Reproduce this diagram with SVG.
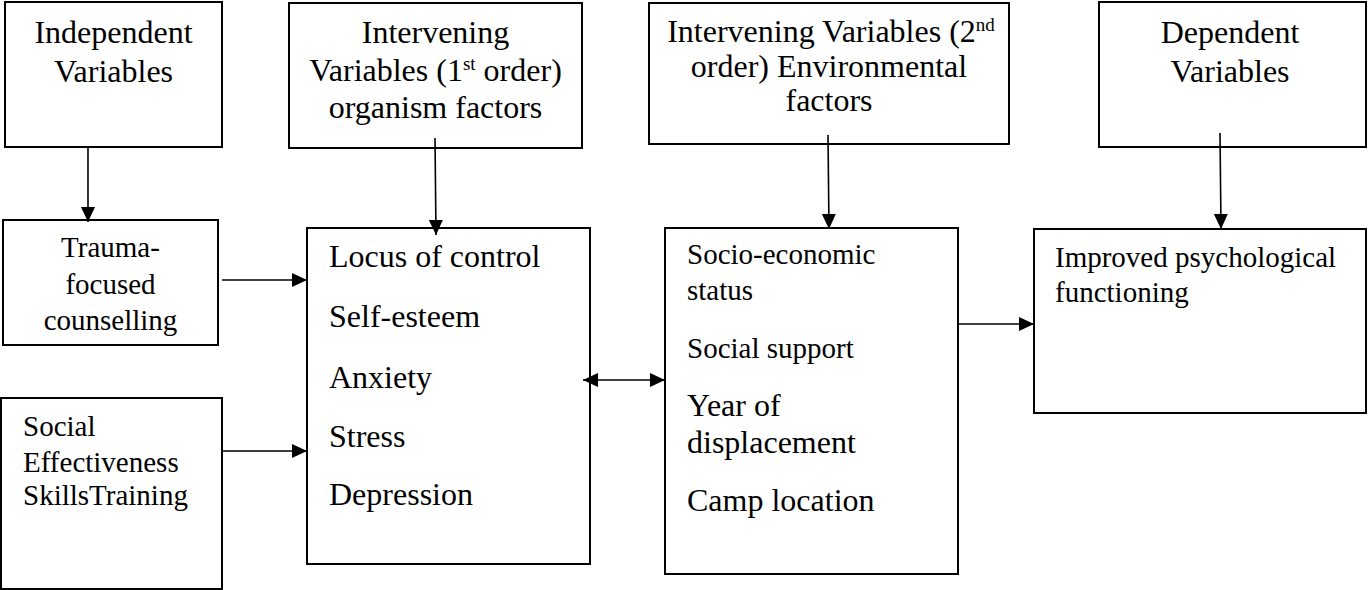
<svg xmlns="http://www.w3.org/2000/svg" width="1368" height="590" viewBox="0 0 1368 590">
<style>
  .box { fill: #ffffff; stroke: #000000; stroke-width: 2; }
  .t { font-family: "Liberation Serif", "Times New Roman", serif; fill: #000000; }
  .h { font-size: 32px; }
  .s { font-size: 29px; }
  .c { text-anchor: middle; }
  .sup { font-size: 19px; }
  .conn { stroke: #000000; stroke-width: 1.6; fill: none; marker-end: url(#ah); }
</style>
<defs>
  <marker id="ah" markerUnits="userSpaceOnUse" markerWidth="16" markerHeight="15" refX="15" refY="7" orient="auto-start-reverse">
    <path d="M0,0 L15,7 L0,14 z" fill="#000000"/>
  </marker>
</defs>
<rect width="1368" height="590" fill="#ffffff"/>

<g id="independent">
  <rect class="box" x="5" y="2" width="217" height="145"/>
  <text class="t h c" x="113.5" y="43">Independent</text>
  <text class="t h c" x="113.5" y="82">Variables</text>
</g>

<g id="intervening1">
  <rect class="box" x="289" y="3" width="293" height="145"/>
  <text class="t h c" x="435.5" y="43">Intervening</text>
  <text class="t h c" x="435.5" y="81">Variables (1<tspan class="sup" dy="-11">st</tspan><tspan dy="11"> order)</tspan></text>
  <text class="t h c" x="435.5" y="118">organism factors</text>
</g>

<g id="intervening2">
  <rect class="box" x="649" y="3" width="360" height="141"/>
  <text class="t h c" x="831" y="42">Intervening Variables (2<tspan class="sup" dy="-11">nd</tspan></text>
  <text class="t h c" x="829" y="77">order) Environmental</text>
  <text class="t h c" x="829" y="111">factors</text>
</g>

<g id="dependent">
  <rect class="box" x="1099" y="2" width="267" height="145"/>
  <text class="t h c" x="1230" y="43">Dependent</text>
  <text class="t h c" x="1230" y="82">Variables</text>
</g>

<g id="trauma">
  <rect class="box" x="3" y="220" width="215" height="125"/>
  <text class="t s c" x="110.5" y="257">Trauma-</text>
  <text class="t s c" x="110.5" y="294">focused</text>
  <text class="t s c" x="110.5" y="330">counselling</text>
</g>

<g id="social-effectiveness">
  <rect class="box" x="1" y="398" width="221" height="191"/>
  <text class="t s" x="23" y="436">Social</text>
  <text class="t s" x="23" y="472">Effectiveness</text>
  <text class="t s" x="23" y="505">SkillsTraining</text>
</g>

<g id="organism">
  <rect class="box" x="307" y="228" width="283" height="336"/>
  <text class="t h" x="329" y="267">Locus of control</text>
  <text class="t h" x="329" y="327">Self-esteem</text>
  <text class="t h" x="329" y="388">Anxiety</text>
  <text class="t h" x="329" y="447">Stress</text>
  <text class="t h" x="329" y="505">Depression</text>
</g>

<g id="environmental">
  <rect class="box" x="665" y="228" width="293" height="346"/>
  <text class="t s" x="687" y="264">Socio-economic</text>
  <text class="t s" x="687" y="300">status</text>
  <text class="t s" x="687" y="358">Social support</text>
  <text class="t h" x="687" y="416">Year of</text>
  <text class="t h" x="687" y="453">displacement</text>
  <text class="t h" x="687" y="511">Camp location</text>
</g>

<g id="improved">
  <rect class="box" x="1034" y="229" width="332" height="184"/>
  <text class="t s" x="1055" y="267">Improved psychological</text>
  <text class="t s" x="1055" y="302">functioning</text>
</g>

<g id="connectors">
  <path class="conn" d="M88,147 L88,222"/>
  <path class="conn" d="M435,138 L436,235"/>
  <path class="conn" d="M828,135 L829,229"/>
  <path class="conn" d="M1220,133 L1221,229"/>
  <path class="conn" d="M222,280 L307,280"/>
  <path class="conn" d="M222,451 L307,451"/>
  <path class="conn" d="M583,380 L665,380" marker-start="url(#ah)"/>
  <path class="conn" d="M958,324 L1034,324"/>
</g>
</svg>
